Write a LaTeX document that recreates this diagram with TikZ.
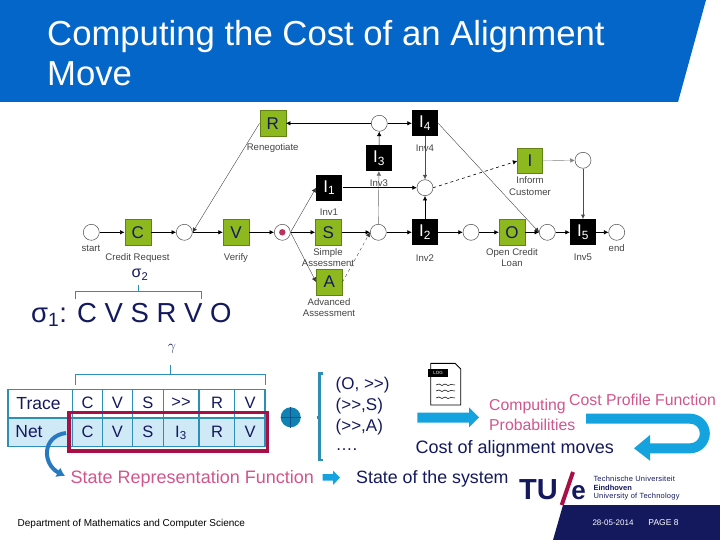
\documentclass[tikz,border=0pt]{standalone}
\usepackage{fontspec}
\setmainfont{Liberation Sans}
\usetikzlibrary{arrows.meta,calc}
\definecolor{hdr}{HTML}{0566C9}
\definecolor{navy}{HTML}{14195E}
\definecolor{grn}{HTML}{8DB81E}
\definecolor{teal1}{HTML}{2E8FB5}
\definecolor{cyan1}{HTML}{14A3DE}
\definecolor{crim}{HTML}{A80F45}
\definecolor{pnk}{HTML}{D2558C}
\definecolor{lbl}{HTML}{444444}
\definecolor{netbg}{HTML}{CFEAF6}
\tikzset{x=1pt,y=-1pt,
 pl/.style={circle,draw=black!70,fill=white,line width=.5pt,minimum size=16pt,inner sep=0pt},
 gb/.style={draw=grn!70!black,fill=grn,minimum size=26pt,inner sep=0pt,text=navy,font=\fontsize{17}{17}\selectfont},
 kb/.style={fill=black,minimum size=26pt,inner sep=0pt,text=white,font=\fontsize{17}{17}\selectfont},
 gl/.style={text=lbl,font=\fontsize{9.6}{11.7}\selectfont,align=center,inner sep=0pt},
 ar/.style={-{Latex[length=4.5pt,width=4.5pt]},black,line width=.6pt},
 ard/.style={ar,line width=.35pt,black!80},
 cell/.style={text=navy,font=\fontsize{16.5}{17}\selectfont,inner sep=0pt},
 hcell/.style={text=navy,font=\fontsize{17.5}{18}\selectfont,inner sep=0pt},
 tline/.style={draw=teal1,line width=1.4pt},
 brk/.style={draw=teal1,line width=.6pt},
 nv/.style={text=navy,inner sep=0pt},
 pk/.style={text=pnk,inner sep=0pt},
 tue/.style={anchor=west,text=navy,inner sep=0pt,font=\fontsize{7.5}{7.5}\selectfont\addfontfeature{LetterSpace=3}}
}
\begin{document}
\begin{tikzpicture}
\useasboundingbox (0,0) rectangle (720,540);
\fill[white] (0,0) rectangle (720,540);
% header and footer bands
\fill[hdr] (0,0) -- (706,0) -- (678,102) -- (0,102) -- cycle;
\node[anchor=west,text=white,inner sep=0pt,font=\fontsize{34.7}{34.7}\selectfont] (t1) at (47,37) {Computing the Cost of an Alignment};
\node[anchor=west,text=white,inner sep=0pt,font=\fontsize{34.7}{34.7}\selectfont] (t2) at (47,74) {Move};
\fill[navy] (563,505) -- (720,505) -- (720,540) -- (553,540) -- cycle;
\node[text=white,inner sep=0pt,font=\fontsize{8}{8}\selectfont] (dt) at (613,523) {28-05-2014};
\node[text=white,inner sep=0pt,font=\fontsize{8.5}{8.5}\selectfont] (pg) at (663.5,523) {PAGE 8};
% Petri net
\node[pl] (start) at (91.3,232.3) {};
\node[gb] (C) at (137.7,232.3) {C};
\node[pl] (p1) at (184.3,232.3) {};
\node[gb] (V) at (236,232.3) {V};
\node[pl] (p2) at (282.3,232.3) {};
\fill[crim!80!pink] (p2) circle (3.2);
\node[gb] (S) at (328.3,232.3) {S};
\node[gb] (A) at (329.3,282) {A};
\node[gb] (R) at (272.7,123.3) {R};
\node[kb] (I1) at (329.3,187.7) {I\textsubscript{1}};
\node[pl] (p3) at (379.3,123.3) {};
\node[kb] (I4) at (425,123.3) {I\textsubscript{4}};
\node[kb] (I3) at (379,158) {I\textsubscript{3}};
\node[pl] (p4) at (425,187.7) {};
\node[gb,minimum size=25pt] (I) at (530,161) {I};
\node[pl] (p5) at (583,160.3) {};
\node[pl] (p6) at (378.3,232.3) {};
\node[kb] (I2) at (425,232.3) {I\textsubscript{2}};
\node[pl] (p7) at (471,232.3) {};
\node[gb] (O) at (512,232.3) {O};
\node[pl] (p8) at (547.3,232.3) {};
\node[kb] (I5) at (583,232.3) {I\textsubscript{5}};
\node[pl] (p9) at (616.7,232.3) {};
\draw[ar] (start) -- (C);
\draw[ar] (C) -- (p1);
\draw[ar] (p1) -- (V);
\draw[ar] (V) -- (p2);
\draw[ar] (p2) -- (S);
\draw[ard] (p2.east) -- (I1.west);
\draw[ard] (p2.east) -- (A.west);
\draw[ard] (R.west) -- (p1.east);
\draw[ar] (p3) -- (R);
\draw[ar] (p3) -- (I4);
\draw[ar] (I3) -- (p3);
\draw[ar,black!60,line width=.4pt] (p6) -- (I3);
\draw[ar] (S) -- (p6);
\draw[ard,dashed] (A.east) -- (p6.west);
\draw[ar] (p6) -- (I2);
\draw[ar] (I2) -- (p4);
\draw[ar,black!70,line width=.9pt] (I4) -- (p4);
\draw[ar] (I1) -- (p4);
\draw[ar,dashed] (p4.east) -- (I.west);
\draw[ar,black!50,line width=.4pt] (I) -- (p5);
\draw[ar,black!70,line width=.9pt] (p5) -- (I5);
\draw[ard] (I4.east) -- (p8.west);
\draw[ar] (I2) -- (p7);
\draw[ar] (p7) -- (O);
\draw[ar] (O) -- (p8);
\draw[ar] (p8) -- (I5);
\draw[ar] (I5) -- (p9);
% Petri labels
\node[gl] (l1) at (91,248) {start};
\node[gl] (l2) at (137.5,257.7) {Credit Request};
\node[gl] (l3) at (236,257.7) {Verify};
\node[gl] (l4) at (272.7,148.5) {Renegotiate};
\node[gl] (l5) at (329,212.5) {Inv1};
\node[gl] (l6) at (328,257.5) {Simple\\Assessment};
\node[gl] (l7) at (329,307.5) {Advanced\\Assessment};
\node[gl] (l8) at (425,148.5) {Inv4};
\node[gl] (l9) at (379,183.5) {Inv3};
\node[gl] (l10) at (425,257.7) {Inv2};
\node[gl] (l11) at (512,257.5) {Open Credit\\Loan};
\node[gl] (l12) at (530,186) {Inform\\Customer};
\node[gl] (l13) at (583,257.7) {Inv5};
\node[gl] (l14) at (616.7,248) {end};
% sigma
\node[nv,font=\fontsize{16}{16}\selectfont] (s2) at (140,275) {σ\textsubscript{2}};
\draw[brk] (75.7,299) -- (75.7,291) -- (201.7,291) -- (201.7,299);
\draw[brk] (138,291) -- (138,285);
\node[nv,anchor=west,font=\fontsize{27.5}{27.5}\selectfont] (s1) at (31,315) {σ\textsubscript{1}: C V S R V O};
% table
\fill[netbg] (8,418) rectangle (265,446.7);
\draw[tline] (8,389.3) rectangle (265,446.7);
\draw[tline] (8,418) -- (265,418);
\foreach \x in {72.7,102.7,132.7,163.3,199,234.7} \draw[tline] (\x,389.3) -- (\x,446.7);
\node[hcell] (a0) at (38.5,403.5) {Trace};
\node[hcell] (b0) at (29,432) {Net};
\foreach \n/\x/\u/\v in {1/87.5/C/C,2/117.5/V/V,3/148/S/S,5/217/R/R,6/250/V/V}{
 \node[cell] (a\n) at (\x,402.8) {\u};
 \node[cell] (b\n) at (\x,432) {\v};
}
\node[cell] (a4) at (181,402.8) {>{}>};
\node[cell] (b4) at (181,433) {I\textsubscript{3}};
\draw[crim,line width=3.6pt] (69,412.3) rectangle (267.3,450.7);
\draw[brk] (75.3,385) -- (75.3,374.5) -- (265.3,374.5) -- (265.3,385);
\draw[brk] (170,374.5) -- (170,365);
\node[nv,font=\fontsize{14}{14}\selectfont] (gam) at (172,349) {$\gamma$};
% plus
\node[circle,fill=cyan1!80!black,minimum size=20pt,inner sep=0pt] (plus) at (290.7,417.3) {};
\draw[navy!60!cyan1,line width=.6pt] (plus.north) -- (plus.south) (plus.west) -- (plus.east);
% curved arrow
\coordinate (cs) at (66,433);
\coordinate (ce) at (65,476);
\draw[teal1!85!blue,line width=4pt,-{Latex[length=8pt,width=11pt]}] (cs) .. controls (42,436) and (42,464) .. (ce);
% state line
\node[pk,font=\fontsize{18}{18}\selectfont,anchor=west] (srf) at (70.5,478.5) {State Representation Function};
\fill[cyan1] (322.7,474) -- (333,474) -- (333,470.7) -- (340,477.5) -- (333,485) -- (333,480.7) -- (322.7,480.7) -- cycle;
\node[nv,font=\fontsize{17.8}{18}\selectfont,anchor=west] (sos) at (356,478.5) {State of the system};
% bracket
\draw[teal1,line width=2.5pt] (323,373.5) -- (319.3,373.5) -- (319.3,460) -- (323,460);
\draw[teal1,line width=2.5pt] (316.5,417.3) -- (319.3,417.3);
\node[nv,anchor=west,font=\fontsize{17}{17}\selectfont] (al1) at (335.5,385) {(O, >{}>)};
\node[nv,anchor=west,font=\fontsize{17}{17}\selectfont] (al2) at (335.5,406) {(>{}>,S)};
\node[nv,anchor=west,font=\fontsize{17}{17}\selectfont] (al3) at (335.5,427) {(>{}>,A)};
\node[nv,anchor=west,font=\fontsize{17}{17}\selectfont] (al4) at (335.5,450) {….};
% log icon
\draw[black,line width=.9pt,fill=white] (430.7,363.3) -- (455,363.3) -- (460.7,369) -- (460.7,405) -- (430.7,405) -- cycle;
\fill[black] (428.3,369.3) rectangle (448.3,376.7);
\node[text=white,inner sep=0pt,font=\fontsize{4.5}{4.5}\selectfont] (logt) at (438,373) {LOG};
\foreach \y in {385,391,398} \draw[black,line width=.5pt] (436,\y) -- ++(3,-1) -- ++(3,1.5) -- ++(3,-1.5) -- ++(3,1.5) -- ++(3,-1) -- ++(4,.5);
\fill[cyan1] (417.3,412.7) -- (469,412.7) -- (469,407.3) -- (479,417.5) -- (469,427.3) -- (469,422.7) -- (417.3,422.7) -- cycle;
\node[pk,font=\fontsize{15.8}{16}\selectfont,anchor=west] (cp1) at (489,406.5) {Computing};
\node[pk,font=\fontsize{15.8}{16}\selectfont,anchor=west] (cp2) at (489,425) {Probabilities};
\node[pk,font=\fontsize{15.8}{16}\selectfont,anchor=west] (cpf) at (569,400) {Cost Profile Function};
\node[nv,font=\fontsize{18}{18}\selectfont,anchor=west] (coam) at (415.5,449) {Cost of alignment moves};
% U-turn arrow
\draw[cyan1,line width=10pt] (586,418.7) -- (690,418.7) arc[start angle=-90,end angle=90,radius=14.8] -- (650,448.3);
\fill[cyan1] (650,435) -- (634,448.3) -- (650,460.7) -- cycle;
% TU/e logo
\node[anchor=base west,text=navy,inner sep=0pt,font=\bfseries\fontsize{29}{29}\selectfont] (tu) at (519,499) {TU};
\draw[crim,line width=4pt] (573,472) -- (561.7,505);
\node[anchor=base,text=navy,inner sep=0pt,font=\bfseries\fontsize{26}{26}\selectfont] (e) at (578.5,499) {e};
\node[tue] (tu1) at (593.3,479) {Technische Universiteit};
\node[tue,font=\bfseries\fontsize{7.5}{7.5}\selectfont] (tu2) at (593.3,488) {Eindhoven};
\node[tue] (tu3) at (593.3,497) {University of Technology};
\node[anchor=west,text=black,inner sep=0pt,font=\fontsize{10}{10}\selectfont] (dep) at (17.5,524) {Department of Mathematics and Computer Science};
\end{tikzpicture}
\end{document}
